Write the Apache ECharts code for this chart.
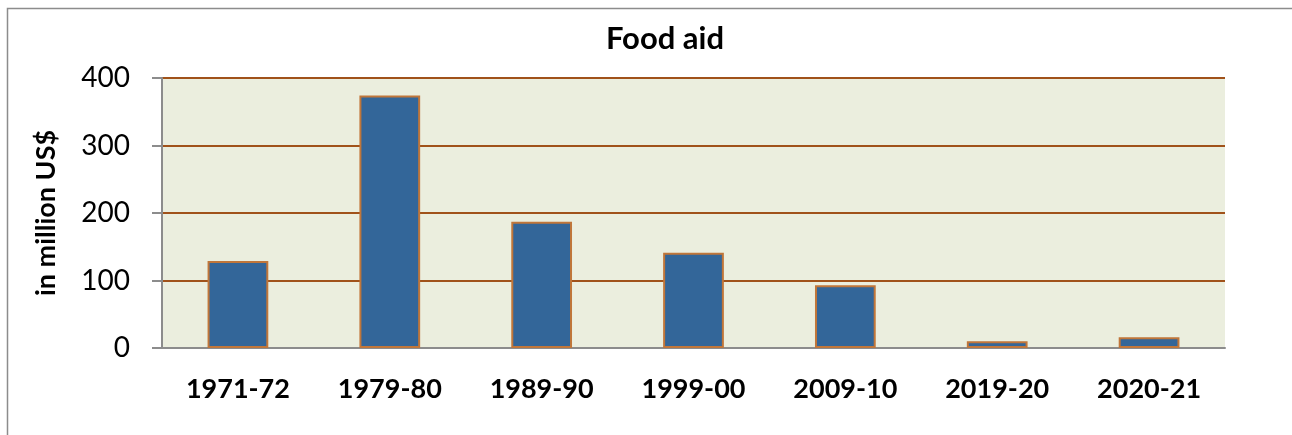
<!DOCTYPE html>
<html>
<head>
<meta charset="utf-8">
<script src="https://cdn.jsdelivr.net/npm/echarts@6/dist/echarts.min.js"></script>
<style>
   html, body { margin: 0; padding: 0; background: #fff; }
   #foodChart { width: 1292px; height: 435px; }
</style>
</head>
<body>
<div id="foodChart"></div>
<script>
   // 数据
   var periods = ['1971-72', '1979-80', '1989-90', '1999-00', '2009-10', '2019-20', '2020-21'];
   var foodAid = [129, 374, 187, 141, 93, 10, 16];
   var yTicks = [0, 100, 200, 300, 400];

   var font = 'Lato, "Open Sans", sans-serif';
   var myChart = echarts.init(document.getElementById('foodChart'));
   var option = {
      animation: false,
      title: {
         text: 'Food aid',
         left: 660,
         top: 18,
         textAlign: 'center',
         textStyle: {fontFamily: font, fontSize: 31, fontWeight: 'bold', color: '#000'}
      },
      graphic: [
         {
            type: 'rect',
            shape: {x: 7.5, y: 8.5, width: 1320, height: 460},
            style: {fill: 'none', stroke: '#8c8c8c', lineWidth: 1.5},
            silent: true
         }
      ],
      grid: {
         left: 162,
         right: 67,
         top: 78,
         bottom: 87,
         show: true,
         backgroundColor: '#EBEEDE',
         borderWidth: 0
      },
      xAxis: {
         type: 'category',
         data: periods,
         axisLine: {lineStyle: {color: '#8c8c8c', width: 2}},
         axisTick: {show: false},
         axisLabel: {
            margin: 28,
            fontFamily: font,
            fontSize: 27,
            fontWeight: 'bold',
            color: '#000'
         }
      },
      yAxis: {
         type: 'value',
         min: yTicks[0],
         max: yTicks[yTicks.length - 1],
         interval: 100,
         name: 'in million US$',
         nameLocation: 'middle',
         nameGap: 102,
         nameTextStyle: {fontFamily: font, fontSize: 27, fontWeight: 'bold', color: '#000'},
         axisLine: {show: true, lineStyle: {color: '#8c8c8c', width: 2}},
         axisTick: {show: true, length: 10, lineStyle: {color: '#8c8c8c', width: 2}},
         axisLabel: {
            margin: 32,
            fontFamily: font,
            fontSize: 28,
            color: '#000'
         },
         splitLine: {lineStyle: {color: '#A0521A', width: 2}}
      },
      series: [
         {
            name: 'Food aid',
            type: 'bar',
            barWidth: '40%',
            data: foodAid,
            itemStyle: {color: '#336699', borderColor: '#C0763A', borderWidth: 2}
         }
      ]
   };
   myChart.setOption(option);
</script>
</body>
</html>
